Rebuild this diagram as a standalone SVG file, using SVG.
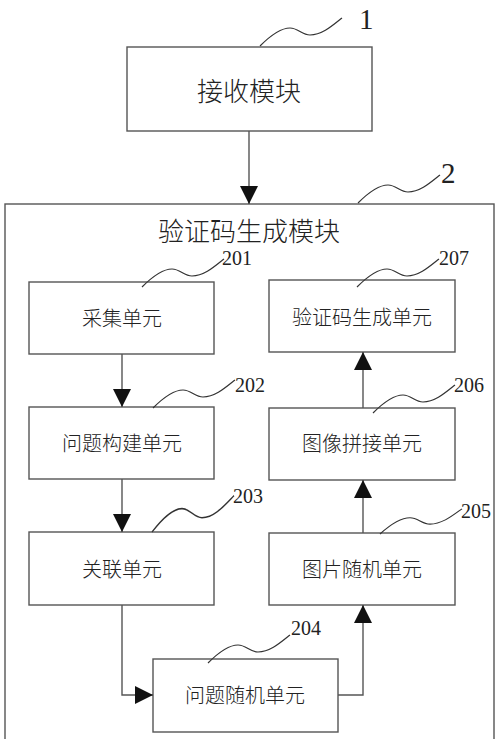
<svg xmlns="http://www.w3.org/2000/svg" xmlns:xlink="http://www.w3.org/1999/xlink" width="500" height="739" viewBox="0 0 500 739">
<style>
.box{fill:#fff;stroke:#555;stroke-width:1.4}
.t{font-family:"Noto Sans CJK SC","Noto Sans CJK JP",sans-serif;font-weight:300;fill:#222;text-anchor:middle;dominant-baseline:central}
.big{font-size:26px}
.sm{font-size:20px}
.num{font-family:"Liberation Serif","Times New Roman",serif;fill:#222;font-size:20px}
.sq{fill:none;stroke:#333;stroke-width:1.2}
.conn{fill:none;stroke:#555;stroke-width:1.4}
</style>
<defs>
<marker id="ah" viewBox="0 0 18 18" refX="18" refY="9" markerWidth="18" markerHeight="18" markerUnits="userSpaceOnUse" orient="auto">
<path d="M0,0 L18,9 L0,18 z" fill="#111"/>
</marker>
<path id="sq" d="M0,0 C10,-10 20,-18 30,-18 C38,-18 42,-11 50,-11 C62,-11 72,-20 82,-28"/>
</defs>

<g id="node-1">
<rect class="box" x="127" y="47" width="245" height="84"/>
<text class="t big" x="249" y="89">接收模块</text>
<use href="#sq" class="sq" transform="translate(260,46)"/>
<text class="num" x="359" y="29" style="font-size:29px">1</text>
</g>

<g id="node-2">
<rect class="box" x="5" y="204" width="489" height="545"/>
<text class="t big" x="249" y="229">验证码生成模块</text>
<use href="#sq" class="sq" transform="translate(358,203)"/>
<text class="num" x="441" y="183" style="font-size:29px">2</text>
</g>

<g id="node-201">
<rect class="box" x="29" y="282" width="185" height="72"/>
<text class="t sm" x="122" y="317">采集单元</text>
<use href="#sq" class="sq" transform="translate(142,287)"/>
<text class="num" x="222" y="265">201</text>
</g>

<g id="node-207">
<rect class="box" x="269" y="280" width="186" height="72"/>
<text class="t sm" x="362" y="316">验证码生成单元</text>
<use href="#sq" class="sq" transform="translate(357,287)"/>
<text class="num" x="439" y="265">207</text>
</g>

<g id="node-202">
<rect class="box" x="29" y="407" width="185" height="72"/>
<text class="t sm" x="122" y="442">问题构建单元</text>
<use href="#sq" class="sq" transform="translate(153,408)"/>
<text class="num" x="235" y="392">202</text>
</g>

<g id="node-206">
<rect class="box" x="269" y="408" width="186" height="72"/>
<text class="t sm" x="362" y="442">图像拼接单元</text>
<use href="#sq" class="sq" transform="translate(373,413)"/>
<text class="num" x="454" y="392">206</text>
</g>

<g id="node-203">
<rect class="box" x="29" y="532" width="185" height="73"/>
<text class="t sm" x="122" y="568">关联单元</text>
<use href="#sq" class="sq" transform="translate(152,532) scale(1,1.3)"/>
<text class="num" x="233" y="503">203</text>
</g>

<g id="node-205">
<rect class="box" x="269" y="533" width="186" height="72"/>
<text class="t sm" x="362" y="568">图片随机单元</text>
<use href="#sq" class="sq" transform="translate(380,534) scale(1,0.9)"/>
<text class="num" x="461" y="518">205</text>
</g>

<g id="node-204">
<rect class="box" x="153" y="659" width="185" height="73"/>
<text class="t sm" x="245" y="694">问题随机单元</text>
<use href="#sq" class="sq" transform="translate(208,663)"/>
<text class="num" x="291" y="635">204</text>
</g>

<g id="connectors">
<line class="conn" x1="249" y1="131" x2="249" y2="204" marker-end="url(#ah)"/>
<line class="conn" x1="122" y1="354" x2="122" y2="407" marker-end="url(#ah)"/>
<line class="conn" x1="122" y1="479" x2="122" y2="532" marker-end="url(#ah)"/>
<polyline class="conn" points="122,605 122,695 153,695" marker-end="url(#ah)"/>
<polyline class="conn" points="338,695 363,695 363,605" marker-end="url(#ah)"/>
<line class="conn" x1="363" y1="533" x2="363" y2="480" marker-end="url(#ah)"/>
<line class="conn" x1="363" y1="408" x2="363" y2="352" marker-end="url(#ah)"/>
</g>
</svg>
